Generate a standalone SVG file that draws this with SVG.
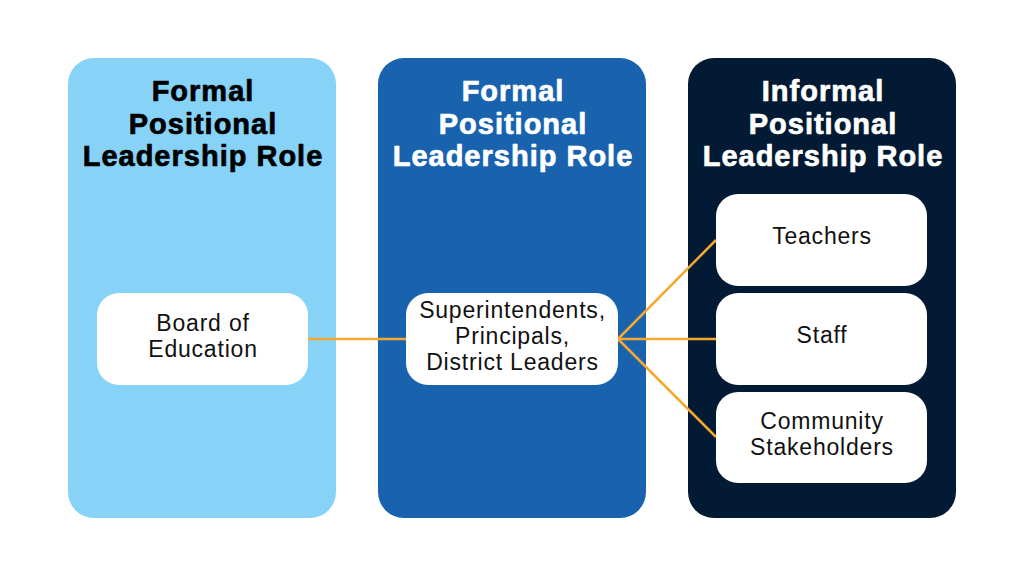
<svg xmlns="http://www.w3.org/2000/svg" width="1024" height="576" viewBox="0 0 1024 576">
<style>
.title{font-family:"Liberation Sans",Arial,sans-serif;font-weight:700;font-size:29px;letter-spacing:1px;text-anchor:middle;stroke-width:0.7px;stroke-linejoin:round}
.dark{fill:#000;stroke:#000}
.light{fill:#fff;stroke:#fff}
.lbl{font-family:"Liberation Sans",Arial,sans-serif;font-size:23px;letter-spacing:0.8px;text-anchor:middle;fill:#111}
.box{fill:#ffffff}
.conn{stroke:#F5A730;stroke-width:2.5;fill:none}
</style>
<rect width="1024" height="576" fill="#ffffff"/>
<g id="panel1">
<rect x="68" y="58" width="268" height="460" rx="26" fill="#87D3F8"/>
<text class="title dark" x="203" y="101">Formal<tspan x="203" dy="32.6">Positional</tspan><tspan x="203" dy="32.6">Leadership Role</tspan></text>
</g>
<g id="panel2">
<rect x="378" y="58" width="268" height="460" rx="26" fill="#1862AE"/>
<text class="title light" x="513" y="101">Formal<tspan x="513" dy="32.6">Positional</tspan><tspan x="513" dy="32.6">Leadership Role</tspan></text>
</g>
<g id="panel3">
<rect x="688" y="58" width="268" height="460" rx="26" fill="#021A33"/>
<text class="title light" x="823" y="101">Informal<tspan x="823" dy="32.6">Positional</tspan><tspan x="823" dy="32.6">Leadership Role</tspan></text>
</g>
<g id="connectors">
<line class="conn" x1="308" y1="339" x2="406" y2="339"/>
<line class="conn" x1="618" y1="339" x2="716" y2="240"/>
<line class="conn" x1="618" y1="339" x2="716" y2="339"/>
<line class="conn" x1="618" y1="339" x2="716" y2="437"/>
</g>
<g id="board">
<rect class="box" x="97" y="293" width="211" height="92" rx="22"/>
<text class="lbl" x="203" y="331">Board of<tspan x="203" dy="26">Education</tspan></text>
</g>
<g id="superintendents">
<rect class="box" x="406" y="293" width="212" height="92" rx="22"/>
<text class="lbl" x="512.5" y="318">Superintendents,<tspan x="512.5" dy="26">Principals,</tspan><tspan x="512.5" dy="26">District Leaders</tspan></text>
</g>
<g id="teachers">
<rect class="box" x="716" y="194" width="211" height="92" rx="22"/>
<text class="lbl" x="822" y="244">Teachers</text>
</g>
<g id="staff">
<rect class="box" x="716" y="293" width="211" height="92" rx="22"/>
<text class="lbl" x="822" y="343">Staff</text>
</g>
<g id="community">
<rect class="box" x="716" y="392" width="211" height="91" rx="22"/>
<text class="lbl" x="822" y="429">Community<tspan x="822" dy="26">Stakeholders</tspan></text>
</g>
</svg>
